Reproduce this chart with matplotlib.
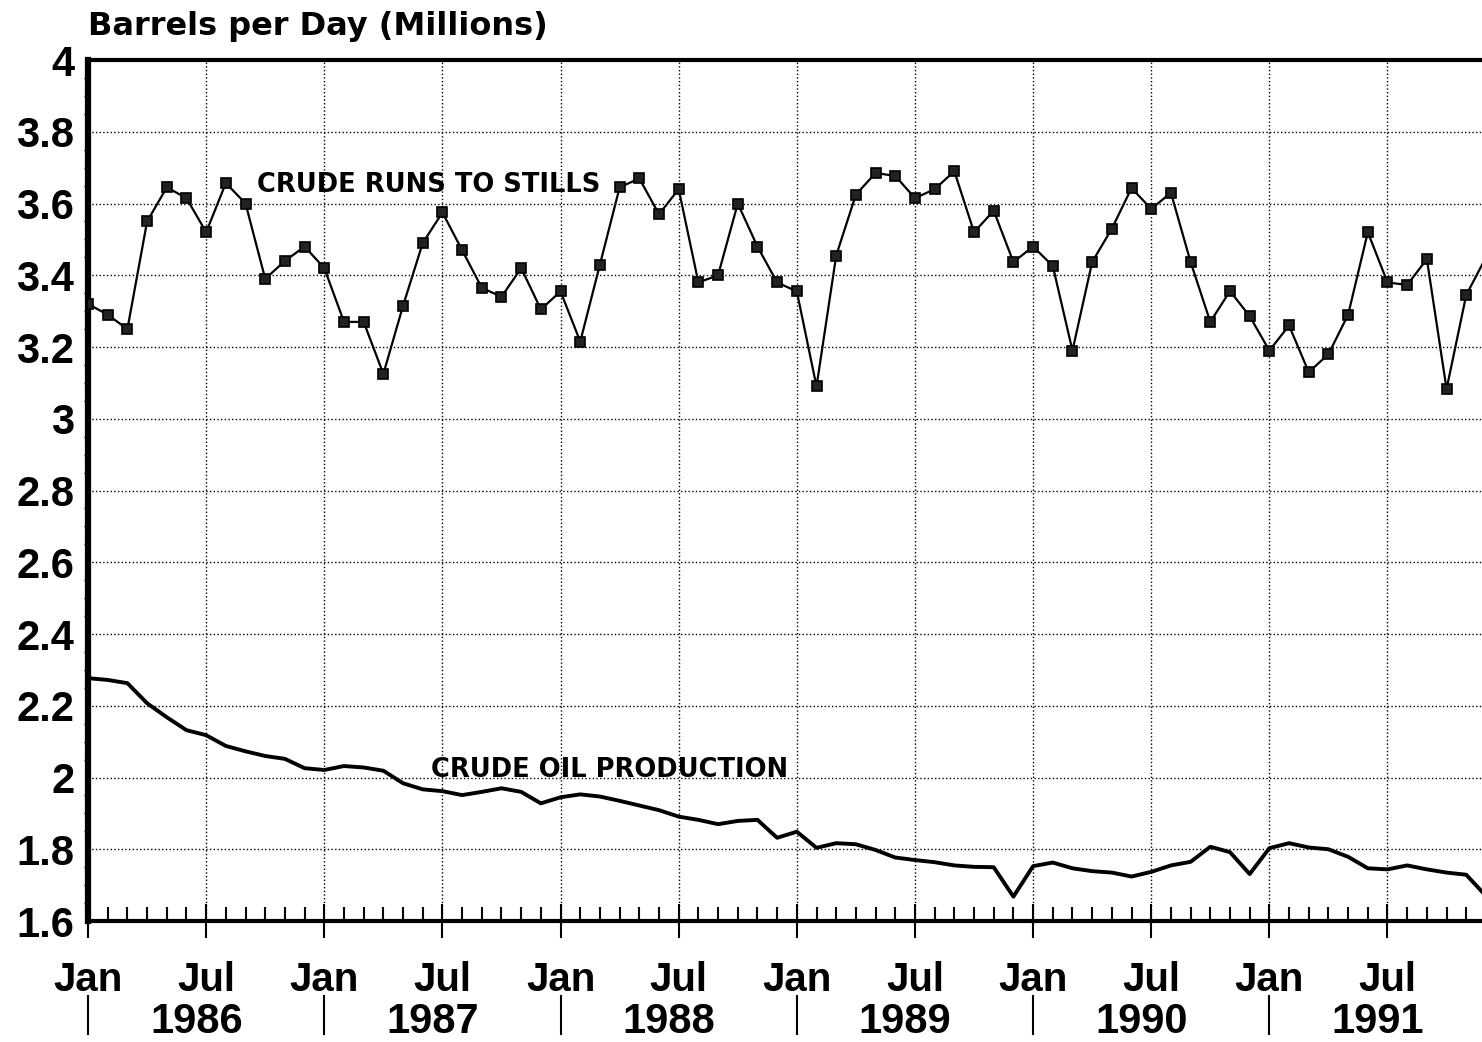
import numpy as np
import matplotlib.pyplot as plt
from matplotlib.ticker import MultipleLocator, FixedLocator

plt.rcParams['font.family'] = ['Liberation Sans', 'DejaVu Sans']
plt.rcParams['font.weight'] = 'bold'

# monthly values, Jan 1986 onward (index 0 = Jan 1986)
runs = [3.32, 3.29, 3.25, 3.55, 3.645, 3.615, 3.52, 3.657, 3.60, 3.39, 3.44, 3.48,
        3.42, 3.27, 3.27, 3.125, 3.315, 3.49, 3.575, 3.47, 3.365, 3.34, 3.42, 3.305,
        3.355, 3.215, 3.43, 3.645, 3.67, 3.57, 3.64, 3.38, 3.40, 3.60, 3.48, 3.38,
        3.355, 3.09, 3.455, 3.625, 3.685, 3.677, 3.615, 3.64, 3.69, 3.52, 3.58, 3.437,
        3.48, 3.426, 3.19, 3.437, 3.53, 3.643, 3.585, 3.63, 3.437, 3.27, 3.356, 3.286,
        3.19, 3.26, 3.13, 3.18, 3.29, 3.52, 3.38, 3.373, 3.445, 3.083, 3.345, 3.45]
production = [2.277, 2.272, 2.263, 2.207, 2.168, 2.132, 2.118, 2.088, 2.073, 2.06, 2.052, 2.026,
              2.021, 2.032, 2.028, 2.019, 1.984, 1.967, 1.962, 1.951, 1.960, 1.970, 1.960, 1.928,
              1.945, 1.953, 1.947, 1.935, 1.922, 1.909, 1.891, 1.882, 1.870, 1.879, 1.882, 1.832,
              1.849, 1.804, 1.817, 1.814, 1.798, 1.777, 1.770, 1.764, 1.755, 1.751, 1.750, 1.668,
              1.753, 1.763, 1.747, 1.739, 1.735, 1.724, 1.737, 1.755, 1.765, 1.807, 1.792, 1.731,
              1.803, 1.817, 1.805, 1.800, 1.779, 1.747, 1.744, 1.755, 1.744, 1.735, 1.729, 1.67]
months = np.arange(len(runs))
tick_labels = ['Jan', 'Jul'] * 6
years = ['1986', '1987', '1988', '1989', '1990', '1991']

fig = plt.figure(figsize=(14.82, 10.42), dpi=100)
ax = fig.add_axes([0.0594, 0.1161, 0.9406, 0.8263])

ax.plot(months, runs, color='black', lw=1.6, marker='s', ms=7,
        mfc='#222222', mec='black', mew=1.2, markevery=slice(0, 71), zorder=3)
ax.plot(months, production, color='black', lw=2.8, zorder=3)

ax.set_xlim(0, 70.8)
ax.set_ylim(1.6, 4.0)

ax.set_yticks(np.arange(1.6, 4.01, 0.2))
ax.set_yticklabels(['1.6', '1.8', '2', '2.2', '2.4', '2.6', '2.8', '3', '3.2', '3.4', '3.6', '3.8', '4'])
ax.xaxis.set_major_locator(FixedLocator(np.arange(0, 72, 6)))
ax.set_xticklabels(tick_labels)
ax.xaxis.set_minor_locator(MultipleLocator(1))
ax.yaxis.set_minor_locator(MultipleLocator(0.05))

ax.tick_params(axis='x', which='major', direction='inout', length=24, width=1.5,
               labelsize=29, pad=17)
ax.tick_params(axis='x', which='minor', direction='in', length=10, width=1.5)
ax.tick_params(axis='y', which='major', direction='out', length=0, labelsize=30, pad=10)
ax.tick_params(axis='y', which='minor', direction='out', length=3, width=1)

ax.grid(True, which='major', color='black', linestyle=':', linewidth=1.0)

ax.spines['left'].set_linewidth(4.5)
for side in ['top', 'bottom']:
    ax.spines[side].set_linewidth(3)
ax.spines['right'].set_visible(False)

ax.text(8.6, 3.652, 'CRUDE RUNS TO STILLS', fontsize=18.5, fontweight='bold',
        family='DejaVu Sans', va='center')
ax.text(17.4, 2.02, 'CRUDE OIL PRODUCTION', fontsize=18.5, fontweight='bold',
        family='DejaVu Sans', va='center')

fig.text(0.0594, 0.975, 'Barrels per Day (Millions)', fontsize=23, fontweight='bold',
         family='DejaVu Sans', ha='left', va='center')

# year labels and separators below the month labels
for i, yr in enumerate(years):
    ax.text(12 * i + 5.5, -0.117, yr, transform=ax.get_xaxis_transform(),
            fontsize=30, fontweight='bold', ha='center', va='center')
    ax.plot([12 * i, 12 * i], [-0.087, -0.131], transform=ax.get_xaxis_transform(),
            color='black', lw=1.5, clip_on=False)

plt.savefig('out.png', dpi=100)
